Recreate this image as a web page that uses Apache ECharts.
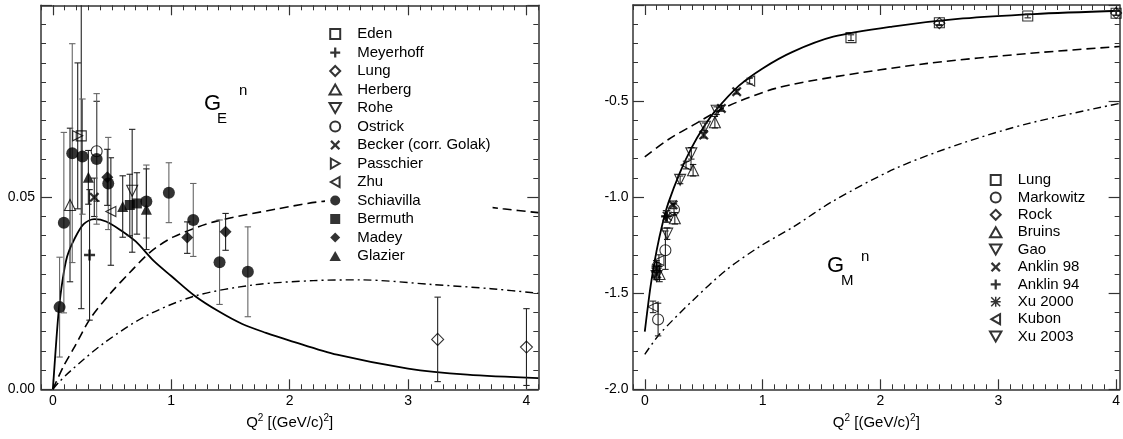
<!DOCTYPE html>
<html><head><meta charset="utf-8">
<script src="https://cdn.jsdelivr.net/npm/echarts@6/dist/echarts.min.js"></script>
<style>html,body{margin:0;padding:0;background:#fff}#c{width:1123px;height:439px}</style>
</head><body><div id="c"></div>
<script>
// ---------------- DATA: left panel G_E^n  ([Q2, value, error]) ----------------
const edenData       = [[0.24, 0.066, 0.045]];
const meyerhoffData  = [[0.31, 0.035, 0.017]];
const lungEData      = [[3.25, 0.013, 0.011], [4.0, 0.011, 0.010]];
const herbergData    = [[0.145, 0.048, 0.020]];
const roheData       = [[0.67, 0.0517, 0.016]];
const ostrickData    = [[0.37, 0.062, 0.013]];
const beckerData     = [[0.35, 0.050, 0.005]];
const passchierData  = [[0.21, 0.066, 0.019]];
const zhuData        = [[0.49, 0.0463, 0.014]];
const schiavillaData = [[0.057, 0.0214, 0.013], [0.093, 0.0434, 0.0235], [0.164, 0.0615, 0.0285],
                        [0.25, 0.0606, 0.015], [0.37, 0.060, 0.017], [0.468, 0.0536, 0.012],
                        [0.79, 0.0489, 0.0095], [0.98, 0.0512, 0.0078], [1.186, 0.0441, 0.0095],
                        [1.408, 0.0331, 0.011], [1.647, 0.0306, 0.0117]];
const bermuthData    = [[0.65, 0.048, 0.008], [0.71, 0.0484, 0.008]];
const madeyData      = [[0.46, 0.0552, 0.0073], [1.135, 0.0395, 0.0041], [1.459, 0.041, 0.0048]];
const glazierData    = [[0.30, 0.0552, 0.007], [0.59, 0.0476, 0.008], [0.79, 0.0469, 0.0105]];

// model curves (left)
const geSolidQ2   = [0, 0.01, 0.03, 0.05, 0.08, 0.12, 0.18, 0.26, 0.35, 0.45, 0.57, 0.7, 0.85, 1.0, 1.2, 1.4, 1.6, 1.8, 2.0, 2.4, 3.0, 3.5, 4.1];
const geSolid     = [0, 0.0043, 0.013, 0.0205, 0.028, 0.0345, 0.039, 0.043, 0.0443, 0.0437, 0.0415, 0.0385, 0.0335, 0.0295, 0.0243, 0.0203, 0.0170, 0.0147, 0.0127, 0.0090, 0.0054, 0.0038, 0.0029];
const geDashQ2    = [0, 0.09, 0.177, 0.318, 0.487, 0.656, 0.825, 1.02, 1.36, 1.9, 2.3, 2.8, 3.3, 3.8, 4.1];
const geDash      = [0, 0.006, 0.0107, 0.0185, 0.025, 0.0306, 0.0358, 0.0397, 0.0436, 0.047, 0.049, 0.0495, 0.0488, 0.047, 0.046];
const geDashDotQ2 = [0, 0.05, 0.15, 0.43, 0.78, 1.2, 1.7, 2.2, 2.6, 3.2, 3.7, 4.1];
const geDashDot   = [0, 0.0018, 0.0048, 0.012, 0.019, 0.0243, 0.0272, 0.0283, 0.0285, 0.0273, 0.0262, 0.025];

// ---------------- DATA: right panel G_M^n ----------------
const lungMData      = [[1.75, -0.170, 0.015], [2.5, -0.092, 0.010], [3.25, -0.057, 0.010], [4.0, -0.043, 0.010]];
const markowitzData  = [[0.113, -1.637, 0.085], [0.175, -1.276, 0.10], [0.248, -1.064, 0.03]];
const rockData       = [[2.5, -0.095, 0.012], [4.0, -0.042, 0.012]];
const bruinsData     = [[0.125, -1.40, 0.04], [0.255, -1.11, 0.03], [0.41, -0.86, 0.03], [0.595, -0.61, 0.03]];
const gaoData        = [[0.19, -1.19, 0.03], [0.395, -0.772, 0.03], [0.61, -0.55, 0.02]];
const anklin98Data   = [[0.10, -1.40, 0.02], [0.24, -1.04, 0.02], [0.50, -0.677, 0.015], [0.65, -0.538, 0.015], [0.78, -0.451, 0.012]];
const anklin94Data   = [[0.10, -1.36, 0.03], [0.18, -1.10, 0.03]];
const xu2000Data     = [[0.10, -1.37, 0.03], [0.19, -1.10, 0.03]];
const kubonData      = [[0.07, -1.571, 0.03], [0.12, -1.33, 0.03], [0.35, -0.833, 0.02], [0.89, -0.396, 0.015]];
const xu2003Data     = [[0.10, -1.41, 0.02], [0.30, -0.91, 0.02], [0.51, -0.634, 0.02]];

const gmSolidQ2    = [0, 0.02, 0.05, 0.1, 0.15, 0.2, 0.3, 0.4, 0.5, 0.6, 0.8, 1.0, 1.25, 1.6, 2.1, 2.7, 3.3, 4.03];
const gmSolid      = [-1.70, -1.60, -1.46, -1.28, -1.14, -1.03, -0.87, -0.74, -0.635, -0.55, -0.42, -0.33, -0.245, -0.165, -0.112, -0.07, -0.047, -0.03];
const gmDashQ2     = [0, 0.2, 0.41, 0.69, 1.11, 1.6, 2.4, 3.26, 4.03];
const gmDash       = [-0.79, -0.70, -0.625, -0.53, -0.434, -0.375, -0.304, -0.252, -0.216];
const gmDashDotQ2  = [0, 0.13, 0.41, 0.69, 0.97, 1.26, 1.6, 2.13, 2.69, 3.26, 4.03];
const gmDashDot    = [-1.818, -1.71, -1.536, -1.38, -1.259, -1.155, -1.02, -0.85, -0.72, -0.616, -0.512];

// ---------------- tick labels ----------------
const xMajorTicks   = [0, 1, 2, 3, 4];
const geMajorTicks  = [0, 0.05, 0.1];
const geLabelTicks  = [0, 0.05];
const gmMajorTicks  = [-2, -1.5, -1, -0.5, 0];
const gmLabelTicks  = [-2, -1.5, -1, -0.5];

function steps(a, b, s) { const r = []; const n = Math.round((b - a) / s); for (let i = 0; i <= n; i++) r.push(Math.round((a + i * s) * 1e6) / 1e6); return r; }
const xMinorTicks  = steps(-0.1, 4.1, 0.1);
const geMinorTicks = steps(0, 0.1, 0.005);
const gmMinorTicks = steps(-2, 0, 0.1);

// ---------------- styling ----------------
const FONT = '"Liberation Sans", Arial, Helvetica, sans-serif';
const AX = '#333';
const pair = (xs, ys) => xs.map((x, i) => [x, ys[i]]);

function xAxes(gi, min, max) {
  const base = { type: 'value', gridIndex: gi, min, max, splitLine: { show: false }, axisLine: { show: false, onZero: false } };
  return [
    Object.assign({}, base, { position: 'bottom',
      axisLine: { show: true, onZero: false, lineStyle: { color: AX, width: 1.5 } },
      axisTick: { show: true, inside: true, length: 10, customValues: xMajorTicks, lineStyle: { color: AX, width: 1.2 } },
      axisLabel: { show: true, customValues: xMajorTicks, margin: 5, color: '#000', fontSize: 14, fontFamily: FONT },
      name: 'Q{sup|2} [(GeV/c){sup|2}]', nameLocation: 'middle', nameGap: 24,
      nameTextStyle: { fontSize: 15, fontFamily: FONT, color: '#000',
        rich: { sup: { fontSize: 10, fontFamily: FONT, color: '#000', verticalAlign: 'top', padding: [0, 0, 9, 0] } } } }),
    Object.assign({}, base, { position: 'bottom', axisTick: { show: true, inside: true, length: 5, customValues: xMinorTicks, lineStyle: { color: AX, width: 1 } }, axisLabel: { show: false } }),
    Object.assign({}, base, { position: 'top',
      axisLine: { show: true, onZero: false, lineStyle: { color: AX, width: 1.5 } },
      axisTick: { show: true, inside: true, length: 10, customValues: xMajorTicks, lineStyle: { color: AX, width: 1.2 } }, axisLabel: { show: false } }),
    Object.assign({}, base, { position: 'top', axisTick: { show: true, inside: true, length: 5, customValues: xMinorTicks, lineStyle: { color: AX, width: 1 } }, axisLabel: { show: false } })
  ];
}
function yAxes(gi, min, max, major, labels, minor, fmt, margin) {
  const base = { type: 'value', gridIndex: gi, min, max, splitLine: { show: false }, axisLine: { show: false, onZero: false } };
  return [
    Object.assign({}, base, { position: 'left',
      axisLine: { show: true, onZero: false, lineStyle: { color: AX, width: 1.5 } },
      axisTick: { show: true, inside: true, length: 11, customValues: major, lineStyle: { color: AX, width: 1.2 } },
      axisLabel: { show: true, customValues: labels, formatter: v => Number(v).toFixed(fmt), margin, color: '#000', fontSize: 14, fontFamily: FONT } }),
    Object.assign({}, base, { position: 'left', axisTick: { show: true, inside: true, length: 5, customValues: minor, lineStyle: { color: AX, width: 1 } }, axisLabel: { show: false } }),
    Object.assign({}, base, { position: 'right',
      axisLine: { show: true, onZero: false, lineStyle: { color: AX, width: 1.5 } },
      axisTick: { show: true, inside: true, length: 11, customValues: major, lineStyle: { color: AX, width: 1.2 } }, axisLabel: { show: false } }),
    Object.assign({}, base, { position: 'right', axisTick: { show: true, inside: true, length: 5, customValues: minor, lineStyle: { color: AX, width: 1 } }, axisLabel: { show: false } })
  ];
}

const P = {
  rect:  'path://M0,0h8v8h-8z',
  diam:  'path://M4,0L8,4L4,8L0,4z',
  plus:  'path://M3.1,0h1.8v3.1h3.1v1.8h-3.1v3.1h-1.8v-3.1h-3.1v-1.8h3.1z',
  cross: 'path://M1.3,0L4,2.7L6.7,0L8,1.3L5.3,4L8,6.7L6.7,8L4,5.3L1.3,8L0,6.7L2.7,4L0,1.3z',
  star:  'path://M3.4,0h1.2v8h-1.2zM0,3.4h8v1.2h-8zM0.85,0L8,7.15L7.15,8L0,0.85zM7.15,0L8,0.85L0.85,8L0,7.15z',
  tdown: 'path://M0,0L8,0L4,7z',
  tright:'path://M0,0L7,4L0,8z',
  tleft: 'path://M7,0L0,4L7,8z',
  tup:   'path://M4,0L8,7L0,7z'
};

function errSeries(name, data, xi, yi, color) {
  return {
    type: 'custom', name: 'err ' + name, xAxisIndex: xi, yAxisIndex: yi, z: 3, silent: true,
    data: data,
    renderItem: function (params, api) {
      const x = api.value(0), y = api.value(1), e = api.value(2);
      const cs = params.coordSys;
      const px = api.coord([x, y])[0];
      const top = api.coord([x, y + e])[1], bot = api.coord([x, y - e])[1];
      const yt = Math.max(top, cs.y), yb = Math.min(bot, cs.y + cs.height);
      const st = { stroke: color, lineWidth: 1.1 };
      const ch = [{ type: 'line', shape: { x1: px, y1: yt, x2: px, y2: yb }, style: st }];
      if (top >= cs.y) ch.push({ type: 'line', shape: { x1: px - 3.2, y1: top, x2: px + 3.2, y2: top }, style: st });
      if (bot <= cs.y + cs.height) ch.push({ type: 'line', shape: { x1: px - 3.2, y1: bot, x2: px + 3.2, y2: bot }, style: st });
      return { type: 'group', children: ch };
    }
  };
}
function pts(name, data, xi, yi, symbol, size, filled, errColor) {
  return [
    errSeries(name, data, xi, yi, errColor || '#222'),
    { type: 'scatter', name, xAxisIndex: xi, yAxisIndex: yi, z: 5, symbol, symbolSize: size,
      data: data.map(d => [d[0], d[1]]),
      itemStyle: filled ? { color: '#000' } : { color: 'none', borderColor: '#000', borderWidth: 1.1 } }
  ];
}
function curve(xs, ys, xi, yi, type, w) {
  return { type: 'line', xAxisIndex: xi, yAxisIndex: yi, z: 2, data: pair(xs, ys), showSymbol: false, symbol: 'none',
    smooth: 0.3, silent: true, lineStyle: { color: '#000', width: w, type } };
}

const DASH = [9, 5], DASHDOT = [8, 4, 2, 4];
const series = [
  curve(geSolidQ2, geSolid, 0, 0, 'solid', 1.8),
  curve(geDashQ2, geDash, 0, 0, DASH, 1.6),
  curve(geDashDotQ2, geDashDot, 0, 0, DASHDOT, 1.4),
  ...pts('Eden', edenData, 0, 0, P.rect, 10, false),
  ...pts('Meyerhoff', meyerhoffData, 0, 0, P.plus, 11, true),
  ...pts('Lung', lungEData, 0, 0, P.diam, 12, false),
  ...pts('Herberg', herbergData, 0, 0, P.tup, 11, false),
  ...pts('Rohe', roheData, 0, 0, P.tdown, 11, false),
  ...pts('Ostrick', ostrickData, 0, 0, 'circle', 11, false),
  ...pts('Becker (corr. Golak)', beckerData, 0, 0, P.cross, 10, true),
  ...pts('Passchier', passchierData, 0, 0, P.tright, 10, false),
  ...pts('Zhu', zhuData, 0, 0, P.tleft, 10, false),
  ...pts('Schiavilla', schiavillaData, 0, 0, 'circle', 12, true, '#666'),
  ...pts('Bermuth', bermuthData, 0, 0, P.rect, 10, true),
  ...pts('Madey', madeyData, 0, 0, P.diam, 12, true),
  ...pts('Glazier', glazierData, 0, 0, P.tup, 11, true),

  curve(gmSolidQ2, gmSolid, 4, 4, 'solid', 1.8),
  curve(gmDashQ2, gmDash, 4, 4, DASH, 1.6),
  curve(gmDashDotQ2, gmDashDot, 4, 4, DASHDOT, 1.4),
  ...pts('Lung ', lungMData, 4, 4, P.rect, 10, false),
  ...pts('Markowitz', markowitzData, 4, 4, 'circle', 11, false),
  ...pts('Rock', rockData, 4, 4, P.diam, 11, false),
  ...pts('Bruins', bruinsData, 4, 4, P.tup, 11, false),
  ...pts('Gao', gaoData, 4, 4, P.tdown, 11, false),
  ...pts('Anklin 98', anklin98Data, 4, 4, P.cross, 10, true),
  ...pts('Anklin 94', anklin94Data, 4, 4, P.plus, 10, true),
  ...pts('Xu 2000', xu2000Data, 4, 4, P.star, 10, true),
  ...pts('Kubon', kubonData, 4, 4, P.tleft, 10, false),
  ...pts('Xu 2003', xu2003Data, 4, 4, P.tdown, 11, false)
];

const leftNames  = ['Eden', 'Meyerhoff', 'Lung', 'Herberg', 'Rohe', 'Ostrick', 'Becker (corr. Golak)', 'Passchier', 'Zhu', 'Schiavilla', 'Bermuth', 'Madey', 'Glazier'];
const rightNames = ['Lung ', 'Markowitz', 'Rock', 'Bruins', 'Gao', 'Anklin 98', 'Anklin 94', 'Xu 2000', 'Kubon', 'Xu 2003'];
const legendText = { fontSize: 15, fontFamily: FONT, color: '#000', lineHeight: 15 };

const txt = (x, y, s, size) => ({ type: 'text', x, y, z: 10, silent: true,
  style: { text: s, fontSize: size, fontFamily: FONT, fill: '#000', align: 'left', verticalAlign: 'middle' } });

const chart = echarts.init(document.getElementById('c'), null, { renderer: 'canvas' });
chart.setOption({
  animation: false,
  backgroundColor: '#fff',
  grid: [
    { left: 41, top: 5.3, width: 497.3, height: 384 },
    { left: 633, top: 5, width: 488.2, height: 384.3 }
  ],
  xAxis: [...xAxes(0, -0.1, 4.1), ...xAxes(1, -0.1, 4.03)],
  yAxis: [...yAxes(0, 0, 0.1, geMajorTicks, geLabelTicks, geMinorTicks, 2, 6),
          ...yAxes(1, -2, 0, gmMajorTicks, gmLabelTicks, gmMinorTicks, 1, 4.5)],
  legend: [
    { data: leftNames, orient: 'vertical', left: 325, top: 24.5, itemWidth: 34, itemHeight: 10, itemGap: 3.5,
      padding: 2, backgroundColor: '#fff', selectedMode: false, textStyle: legendText, z: 8 },
    { data: rightNames, orient: 'vertical', left: 985.5, top: 170.5, itemWidth: 34, itemHeight: 10, itemGap: 2.4,
      padding: 2, backgroundColor: '#fff', selectedMode: false, textStyle: legendText, z: 8 }
  ],
  graphic: [
    txt(204, 104, 'G', 22), txt(217, 119, 'E', 15), txt(239, 91, 'n', 15),
    txt(827, 266, 'G', 22), txt(841, 281, 'M', 15), txt(861, 257, 'n', 15)
  ],
  series
});
</script></body></html>
